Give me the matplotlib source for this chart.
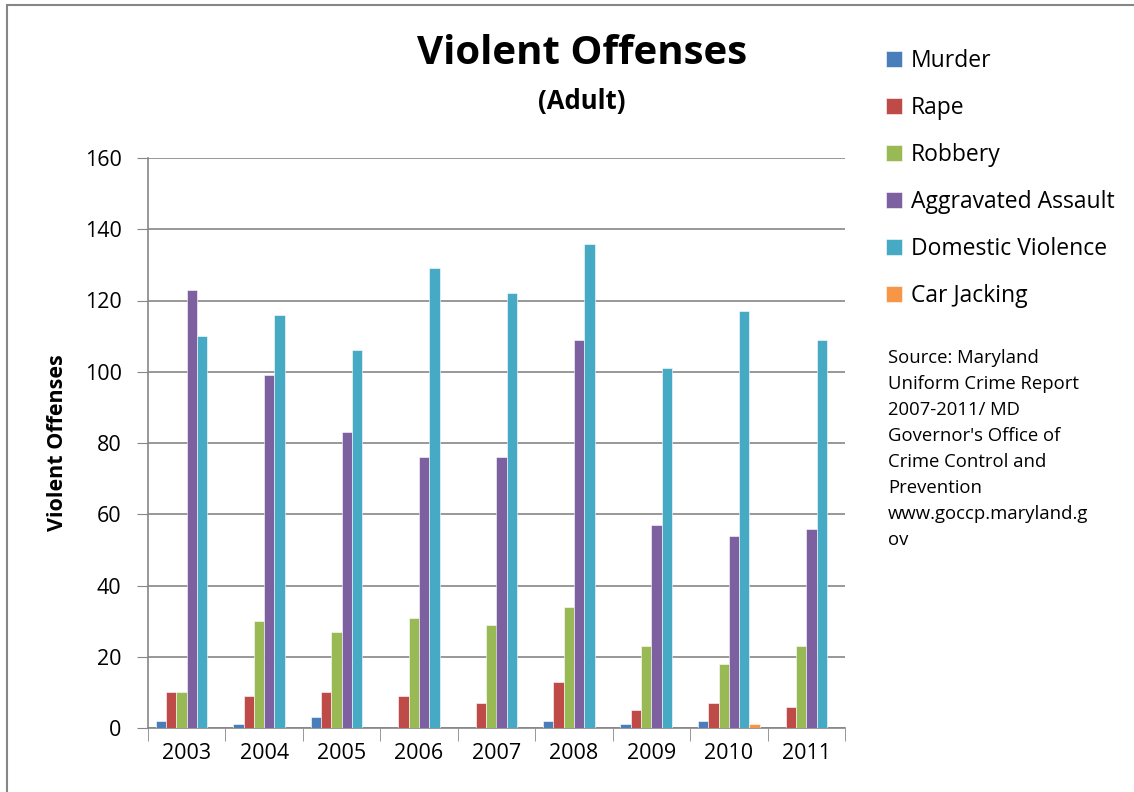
import numpy as np
import matplotlib
matplotlib.use('Agg')
import matplotlib.pyplot as plt
from matplotlib.patches import Rectangle

years = ['2003', '2004', '2005', '2006', '2007', '2008', '2009', '2010', '2011']
murder = [2, 1, 3, 0, 0, 2, 1, 2, 0]
rape = [10, 9, 10, 9, 7, 13, 5, 7, 6]
robbery = [10, 30, 27, 31, 29, 34, 23, 18, 23]
assault = [123, 99, 83, 76, 76, 109, 57, 54, 56]
domestic = [110, 116, 106, 129, 122, 136, 101, 117, 109]
carjack = [0, 0, 0, 0, 0, 0, 0, 1, 0]

series = [('Murder', murder, '#4a7ebb'),
          ('Rape', rape, '#be4b48'),
          ('Robbery', robbery, '#98b954'),
          ('Aggravated Assault', assault, '#7d60a0'),
          ('Domestic Violence', domestic, '#46aac5'),
          ('Car Jacking', carjack, '#f79646')]

plt.rcParams['font.family'] = ['Open Sans', 'DejaVu Sans']

fig = plt.figure(figsize=(11.34, 7.92), dpi=100)
W, H = 1134, 792
ax = fig.add_axes([148 / W, 1 - 728 / H, (845 - 148) / W, (728 - 158) / H])

x = np.arange(len(years))
width = 0.133
handles = []
for i, (name, vals, col) in enumerate(series):
    b = ax.bar(x + (i - 2.5) * width, vals, width, color=col, label=name,
               edgecolor='white', linewidth=0.4, zorder=3)
    handles.append(b)

ax.set_xlim(-0.5, len(years) - 0.5)
ax.set_ylim(0, 160)
ax.set_yticks(range(0, 161, 20))
ax.tick_params(axis='y', labelsize=15.5, length=8, color='#868686', pad=11)
ax.set_xticks(x)
ax.set_xticklabels(years, fontsize=15.5)
ax.tick_params(axis='x', length=0, pad=11)
ax.set_xticks(np.arange(-0.5, len(years), 1), minor=True)
ax.tick_params(axis='x', which='minor', length=9, color='#868686')
ax.yaxis.grid(True, color='#868686', linewidth=1.2, zorder=0)
for s in ['top', 'right']:
    ax.spines[s].set_visible(False)
for s in ['left', 'bottom']:
    ax.spines[s].set_color('#868686')
    ax.spines[s].set_linewidth(1.2)

ax.set_ylabel('Violent Offenses', fontsize=15.5, fontweight='bold', labelpad=12)

fig.text(582 / W, 1 - 53 / H, 'Violent Offenses', fontsize=29, fontweight='bold',
         ha='center', va='center')
fig.text(582 / W, 1 - 102 / H, '(Adult)', fontsize=18.5, fontweight='bold',
         ha='center', va='center')

fig.legend(handles=handles, loc='upper left', bbox_to_anchor=(877 / W, 1 - 40 / H),
           frameon=False, fontsize=16.5, labelspacing=1.0, handlelength=0.68,
           handleheight=0.68, handletextpad=0.4, borderaxespad=0)

fig.text(888 / W, 1 - 349 / H,
         "Source: Maryland\nUniform Crime Report\n2007-2011/ MD\nGovernor's Office of\n"
         "Crime Control and\nPrevention\nwww.goccp.maryland.g\nov",
         fontsize=13.3, ha='left', va='top', linespacing=1.57)

fig.patches.append(Rectangle((7 / W, -0.01), 1.1, 1 - 5 / H + 0.01, transform=fig.transFigure,
                             fill=False, edgecolor='#868686', linewidth=1.5))

fig.savefig('out.png', dpi=100)
